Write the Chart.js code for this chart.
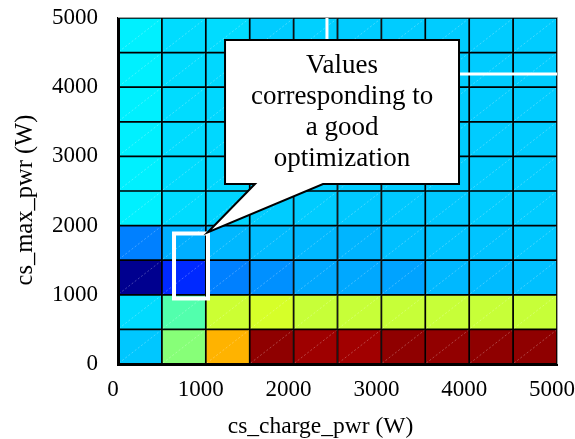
<!DOCTYPE html>
<html><head><meta charset="utf-8">
<script src="https://cdn.jsdelivr.net/npm/chart.js@4/dist/chart.umd.min.js"></script>
<style>html,body{margin:0;padding:0;background:#fff}#c{display:block}</style>
</head><body>
<div style="width:575px;height:439px"><canvas id="c" width="575" height="439"></canvas></div>
<script>
// ---- data ----
const xCenters = [250, 750, 1250, 1750, 2250, 2750, 3250, 3750, 4250, 4750];
const yBandsLow = [0, 500, 1000, 1500, 2000, 2500, 3000, 3500, 4000, 4500];
const yBandsHigh = [500, 1000, 1500, 2000, 2500, 3000, 3500, 4000, 4500, 5000];
// normalized cell values (0..1, jet colormap), rows from bottom (y=0) to top
const zRow0 = [0.320, 0.507, 0.700, 0.985, 0.970, 0.967, 0.985, 0.982, 0.985, 0.985];
const zRow1 = [0.340, 0.455, 0.575, 0.585, 0.570, 0.570, 0.570, 0.570, 0.570, 0.570];
const zRow2 = [0.015, 0.165, 0.250, 0.266, 0.290, 0.290, 0.285, 0.305, 0.308, 0.313];
const zRow3 = [0.250, 0.297, 0.305, 0.309, 0.305, 0.302, 0.313, 0.317, 0.317, 0.321];
const zRow4 = [0.360, 0.341, 0.333, 0.325, 0.325, 0.321, 0.321, 0.321, 0.325, 0.325];
const zRow5 = [0.360, 0.341, 0.337, 0.325, 0.327, 0.325, 0.325, 0.325, 0.325, 0.325];
const zRow6 = [0.360, 0.341, 0.337, 0.325, 0.327, 0.325, 0.325, 0.325, 0.325, 0.325];
const zRow7 = [0.360, 0.341, 0.337, 0.325, 0.327, 0.325, 0.325, 0.325, 0.325, 0.325];
const zRow8 = [0.360, 0.341, 0.337, 0.325, 0.327, 0.325, 0.325, 0.325, 0.325, 0.325];
const zRow9 = [0.360, 0.341, 0.341, 0.325, 0.329, 0.325, 0.325, 0.325, 0.325, 0.325];
const zRows = [zRow0, zRow1, zRow2, zRow3, zRow4, zRow5, zRow6, zRow7, zRow8, zRow9];
const xTicks = [0, 1000, 2000, 3000, 4000, 5000];
const yTicks = [0, 1000, 2000, 3000, 4000, 5000];
const xTitle = 'cs_charge_pwr (W)';
const yTitle = 'cs_max_pwr (W)';
const calloutLines = ['Values', 'corresponding to', 'a good', 'optimization'];

// ---- annotation geometry (data coordinates) ----
const ann = {
  box: {x0: 1219, x1: 3884, y0: 2601, y1: 4682},
  pointer: {bx0: 1560, bx1: 2335, tx: 1020, ty: 1900},
  cellRect: {x0: 638, x1: 1025, y0: 947, y1: 1886},
  otherRect: {x0: 2380, y0: 4191}
};

function jet(t) {
  const c = v => Math.round(255 * Math.max(0, Math.min(1, v)));
  return 'rgb(' + c(1.5 - Math.abs(4 * t - 3)) + ',' + c(1.5 - Math.abs(4 * t - 2)) + ',' + c(1.5 - Math.abs(4 * t - 1)) + ')';
}

const FONT = "'Liberation Serif', 'Times New Roman', serif";

const datasets = zRows.map((row, r) => ({
  data: xCenters.map((x, i) => ({x: x, y: [yBandsLow[r], yBandsHigh[r]]})),
  backgroundColor: row.map(jet),
  borderColor: '#000',
  borderWidth: 1.2,
  borderSkipped: false,
  grouped: false,
  barPercentage: 1,
  categoryPercentage: 1
}));

const decor = {
  id: 'decor',
  afterDatasetsDraw(chart) {
    const ctx = chart.ctx;
    ctx.save();
    ctx.strokeStyle = 'rgba(255,255,255,0.45)';
    ctx.lineWidth = 0.6;
    ctx.setLineDash([2, 2]);
    chart.data.datasets.forEach((ds, di) => {
      chart.getDatasetMeta(di).data.forEach(el => {
        const p = el.getProps(['x', 'y', 'base', 'width'], true);
        ctx.beginPath();
        ctx.moveTo(p.x - p.width / 2 + 1, p.base - 1);
        ctx.lineTo(p.x + p.width / 2 - 1, p.y + 1);
        ctx.stroke();
      });
    });
    ctx.restore();
  },
  afterDraw(chart) {
    const ctx = chart.ctx, xs = chart.scales.x, ys = chart.scales.y;
    const X = v => xs.getPixelForValue(v), Y = v => ys.getPixelForValue(v);
    const a = chart.chartArea;
    ctx.save();
    // light frame on top and right
    ctx.strokeStyle = '#a0a0a0';
    ctx.lineWidth = 1;
    ctx.beginPath();
    ctx.moveTo(a.left, a.top - 0.5); ctx.lineTo(a.right + 0.5, a.top - 0.5); ctx.lineTo(a.right + 0.5, a.bottom);
    ctx.stroke();
    // partially hidden white rectangle (upper right)
    ctx.strokeStyle = '#fff';
    ctx.lineWidth = 3;
    ctx.beginPath();
    ctx.moveTo(X(ann.otherRect.x0), a.top);
    ctx.lineTo(X(ann.otherRect.x0), Y(ann.otherRect.y0));
    ctx.lineTo(a.right, Y(ann.otherRect.y0));
    ctx.stroke();
    // white rectangle around the good cell
    ctx.lineWidth = 4;
    const c = ann.cellRect;
    ctx.strokeRect(X(c.x0), Y(c.y1), X(c.x1) - X(c.x0), Y(c.y0) - Y(c.y1));
    // callout
    const b = ann.box, p = ann.pointer;
    ctx.beginPath();
    ctx.moveTo(X(b.x0), Y(b.y1));
    ctx.lineTo(X(b.x1), Y(b.y1));
    ctx.lineTo(X(b.x1), Y(b.y0));
    ctx.lineTo(X(p.bx1), Y(b.y0));
    ctx.lineTo(X(p.tx), Y(p.ty));
    ctx.lineTo(X(p.bx0), Y(b.y0));
    ctx.lineTo(X(b.x0), Y(b.y0));
    ctx.closePath();
    ctx.fillStyle = '#fff';
    ctx.fill();
    ctx.strokeStyle = '#000';
    ctx.lineWidth = 2;
    ctx.lineJoin = 'miter';
    ctx.stroke();
    ctx.fillStyle = '#000';
    ctx.font = '27px ' + FONT;
    ctx.textAlign = 'center';
    ctx.textBaseline = 'middle';
    const cx = (X(b.x0) + X(b.x1)) / 2, cy = (Y(b.y0) + Y(b.y1)) / 2;
    const lh = 31;
    calloutLines.forEach((t, i) => {
      ctx.fillText(t, cx, cy + (i - (calloutLines.length - 1) / 2) * lh);
    });
    // axis titles
    ctx.font = '23.5px ' + FONT;
    ctx.fillText(xTitle, (a.left + a.right) / 2 - 17, 427);
    ctx.translate(26, (a.top + a.bottom) / 2 + 9);
    ctx.rotate(-Math.PI / 2);
    ctx.font = '24.5px ' + FONT;
    ctx.fillText(yTitle, 0, 0);
    ctx.restore();
  }
};

new Chart(document.getElementById('c'), {
  type: 'bar',
  data: {datasets: datasets},
  options: {
    responsive: false,
    animation: false,
    events: [],
    layout: {padding: {top: 18, right: 18, left: 0, bottom: 0}},
    plugins: {legend: {display: false}, tooltip: {enabled: false}},
    scales: {
      x: {
        type: 'linear', min: 0, max: 5000, offset: false,
        grid: {display: false, offset: false, drawTicks: false},
        border: {display: true, color: '#000', width: 3, z: 1},
        afterBuildTicks: s => { s.ticks = xTicks.map(v => ({value: v})); },
        afterFit: s => { s.height = 75; s.paddingLeft = 0; s.paddingRight = 0; },
        ticks: {color: '#000', padding: 12, labelOffset: -5, maxRotation: 0, autoSkip: false, callback: v => String(v), font: {family: FONT, size: 23}}
      },
      y: {
        type: 'linear', min: 0, max: 5000,
        grid: {display: false, drawTicks: false},
        border: {display: true, color: '#000', width: 3, z: 1},
        afterBuildTicks: s => { s.ticks = yTicks.map(v => ({value: v})); },
        afterFit: s => { s.width = 118; s.paddingTop = 0; s.paddingBottom = 0; },
        ticks: {color: '#000', padding: 20, autoSkip: false, callback: v => String(v), font: {family: FONT, size: 23}}
      }
    }
  },
  plugins: [decor]
});
</script>
</body></html>
